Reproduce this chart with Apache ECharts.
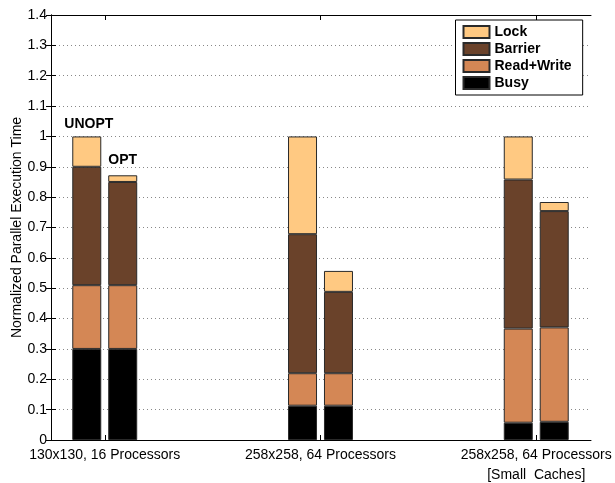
<!DOCTYPE html>
<html>
<head>
<meta charset="utf-8">
<script src="https://cdn.jsdelivr.net/npm/echarts@6/dist/echarts.min.js"></script>
<style>html,body{margin:0;padding:0;background:#fff}#c{width:615px;height:483px}</style>
</head>
<body>
<div id="c"></div>
<script>
var groups = ['130x130, 16 Processors', '258x258, 64 Processors', '258x258, 64 Processors\n[Small  Caches]'];
var yTicks = [0, 0.1, 0.2, 0.3, 0.4, 0.5, 0.6, 0.7, 0.8, 0.9, 1, 1.1, 1.2, 1.3, 1.4];
var components = ['Busy', 'Read+Write', 'Barrier', 'Lock'];
var variants = ['UNOPT', 'OPT'];

var busyUnopt    = [0.300, 0.113, 0.057];
var rwUnopt      = [0.210, 0.107, 0.310];
var barrierUnopt = [0.390, 0.458, 0.491];
var lockUnopt    = [0.100, 0.322, 0.142];

var busyOpt      = [0.300, 0.113, 0.060];
var rwOpt        = [0.210, 0.107, 0.311];
var barrierOpt   = [0.340, 0.268, 0.383];
var lockOpt      = [0.022, 0.069, 0.030];

var colors = {'Busy': '#000000', 'Read+Write': '#D48755', 'Barrier': '#6A422A', 'Lock': '#FFC982'};
var FONT = '"Liberation Sans", Arial, Helvetica, sans-serif';

var values = {
  UNOPT: {'Busy': busyUnopt, 'Read+Write': rwUnopt, 'Barrier': barrierUnopt, 'Lock': lockUnopt},
  OPT: {'Busy': busyOpt, 'Read+Write': rwOpt, 'Barrier': barrierOpt, 'Lock': lockOpt}
};

var series = [];
variants.forEach(function (v) {
  components.forEach(function (comp) {
    var data = values[v][comp].map(function (val, i) {
      var item = {value: val};
      if (comp === 'Lock' && i === 0) {
        item.label = {
          show: true, position: 'top', formatter: v,
          distance: v === 'UNOPT' ? 5 : 8,
          offset: v === 'UNOPT' ? [2, 0] : [0, 0],
          fontFamily: FONT, fontWeight: 'bold', fontSize: 14, color: '#000'
        };
      }
      return item;
    });
    series.push({
      type: 'bar',
      name: comp,
      stack: v,
      xAxisIndex: 2,
      yAxisIndex: 2,
      barWidth: 29,
      barGap: '24%',
      clip: false,
      data: data,
      itemStyle: {color: colors[comp], borderColor: '#2a2a2a', borderWidth: 1},
      emphasis: {disabled: true},
      animation: false
    });
  });
});

// frame grid: 51..591 x 15..440 ; bar grid: categories at 104.75, 320.5, 536.25 (boundaryGap false)
var G = {top: 15, height: 425};

var chart = echarts.init(document.getElementById('c'), null, {renderer: 'canvas'});
chart.setOption({
  animation: false,
  grid: [
    {left: 51, width: 540, top: G.top, height: G.height, show: false, containLabel: false, outerBoundsMode: 'none'},
    {left: 104.75, width: 431.5, top: G.top, height: G.height, show: false, containLabel: false, outerBoundsMode: 'none'}
  ],
  legend: {
    data: ['Lock', 'Barrier', 'Read+Write', 'Busy'],
    orient: 'vertical',
    left: 455.5, top: 20,
    backgroundColor: '#fff',
    borderColor: '#000', borderWidth: 1,
    padding: [5, 11, 5, 7],
    itemWidth: 26, itemHeight: 12, itemGap: 3,
    icon: 'rect',
    selectedMode: false,
    textStyle: {fontFamily: FONT, fontWeight: 'bold', fontSize: 14, color: '#000'}
  },
  xAxis: [{
    type: 'value', gridIndex: 0, min: 0, max: 1, position: 'bottom',
    axisLine: {show: true, onZero: false, lineStyle: {color: '#000', width: 1}},
    axisTick: {show: false}, axisLabel: {show: false}, splitLine: {show: false}
  }, {
    type: 'value', gridIndex: 0, min: 0, max: 1, position: 'top',
    axisLine: {show: true, onZero: false, lineStyle: {color: '#000', width: 1}},
    axisTick: {show: false}, axisLabel: {show: false}, splitLine: {show: false}
  }, {
    type: 'category', gridIndex: 1, data: groups, position: 'bottom', boundaryGap: false,
    axisLine: {show: false},
    axisTick: {show: true, inside: true, length: 5, lineStyle: {color: '#000'}},
    axisLabel: {show: true, margin: 5, interval: 0, fontFamily: FONT, fontSize: 14, color: '#000', lineHeight: 20},
    splitLine: {show: false}
  }, {
    type: 'category', gridIndex: 1, data: groups, position: 'top', boundaryGap: false,
    axisLine: {show: false},
    axisTick: {show: true, inside: true, length: 5, lineStyle: {color: '#000'}},
    axisLabel: {show: false}, splitLine: {show: false}
  }],
  yAxis: [{
    type: 'value', gridIndex: 0, min: 0, max: 1.4, interval: 0.1,
    position: 'left',
    name: 'Normalized Parallel Execution Time',
    nameLocation: 'middle', nameGap: 27, nameMoveOverlap: false,
    nameTextStyle: {fontFamily: FONT, fontSize: 14, color: '#000'},
    axisLine: {show: true, lineStyle: {color: '#000', width: 1}},
    axisTick: {show: true, inside: true, length: 5, lineStyle: {color: '#000'}},
    axisLabel: {
      fontFamily: FONT, fontSize: 14, color: '#000', margin: 4,
      formatter: function (v) {
        var best = yTicks.reduce(function (a, b) { return Math.abs(b - v) < Math.abs(a - v) ? b : a; });
        return String(best);
      }
    },
    splitLine: {show: true, lineStyle: {color: '#888', width: 1, type: [1, 3]}}
  }, {
    type: 'value', gridIndex: 0, min: 0, max: 1.4, interval: 0.1,
    position: 'right',
    axisLine: {show: true, lineStyle: {color: '#000', width: 1}},
    axisTick: {show: true, inside: true, length: 5, lineStyle: {color: '#000'}},
    axisLabel: {show: false}, splitLine: {show: false}
  }, {
    type: 'value', gridIndex: 1, min: 0, max: 1.4, interval: 0.1,
    show: false
  }],
  series: series
});
</script>
</body>
</html>
